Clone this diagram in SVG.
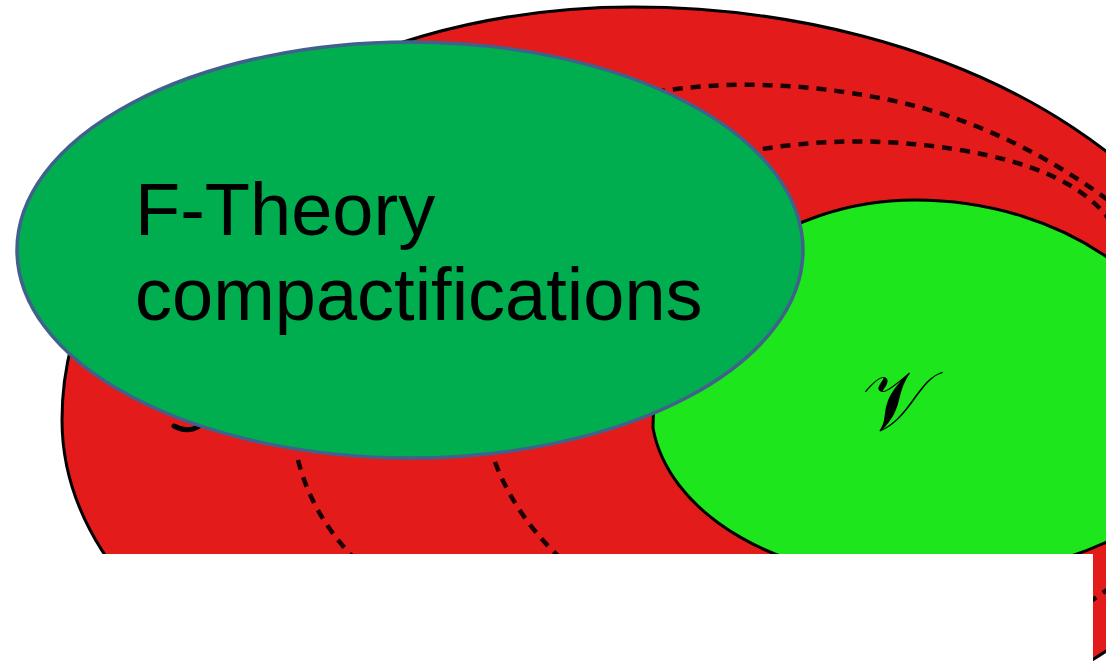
<svg xmlns="http://www.w3.org/2000/svg" width="1118" height="661" viewBox="0 0 1118 661">
  <style>
    .ring { fill: #e41b1b; stroke: #000; stroke-width: 3; }
    .inner { fill: #1de61d; stroke: #000; stroke-width: 3; }
    .dash { fill: none; stroke: #1a0000; stroke-width: 4.5; stroke-dasharray: 10 8; }
    .math { font-family: "DejaVu Serif", "DejaVu Sans", serif; fill: #000; }
    .label { font-family: "Liberation Sans", Arial, sans-serif; font-size: 74px; fill: #000; }
    .node { fill: #00ad4f; stroke: #41608c; stroke-width: 3.5; }
  </style>
  <defs>
    <clipPath id="pic">
      <rect x="0" y="0" width="1106" height="661"/>
    </clipPath>
  </defs>
  <rect width="1118" height="661" fill="#fff"/>
  <g id="background" clip-path="url(#pic)">
    <path class="ring" d="M 62,420 A 571 413 0 0 1 633,7 A 623 413 0 0 1 1256,420 A 623 355 0 0 1 633,775 A 571 355 0 0 1 62,420 Z"/>
    <path class="inner" d="M 653,428 A 262 228 0 0 1 915,200 A 290 228 0 0 1 1205,428 A 290 152 0 0 1 915,580 A 262 172 0 0 1 653,428 Z"/>
    <path class="dash" d="M 655,92 Q 760,75 880,98 T 1108,200"/>
    <path class="dash" d="M 745,152 Q 850,132 960,150 T 1108,218"/>
    <path class="dash" d="M 298,460 Q 312,515 354,558"/>
    <path class="dash" d="M 495,462 Q 515,515 560,558"/>
    <path class="dash" d="M 1088,603 L 1110,588"/>
    <path d="M 174,426 Q 188,434 201,425" fill="none" stroke="#000" stroke-width="5" stroke-linecap="round"/>
    <text class="math" x="897" y="430" font-size="84" text-anchor="middle">𝒱</text>
  </g>
  <g id="mask">
    <rect x="0" y="554" width="1093" height="107" fill="#fff"/>
  </g>
  <g id="ftheory">
    <ellipse class="node" cx="410" cy="250" rx="393" ry="208"/>
    <text class="label" x="135" y="235">F-Theory</text>
    <text class="label" x="135" y="320">compactifications</text>
  </g>
</svg>
